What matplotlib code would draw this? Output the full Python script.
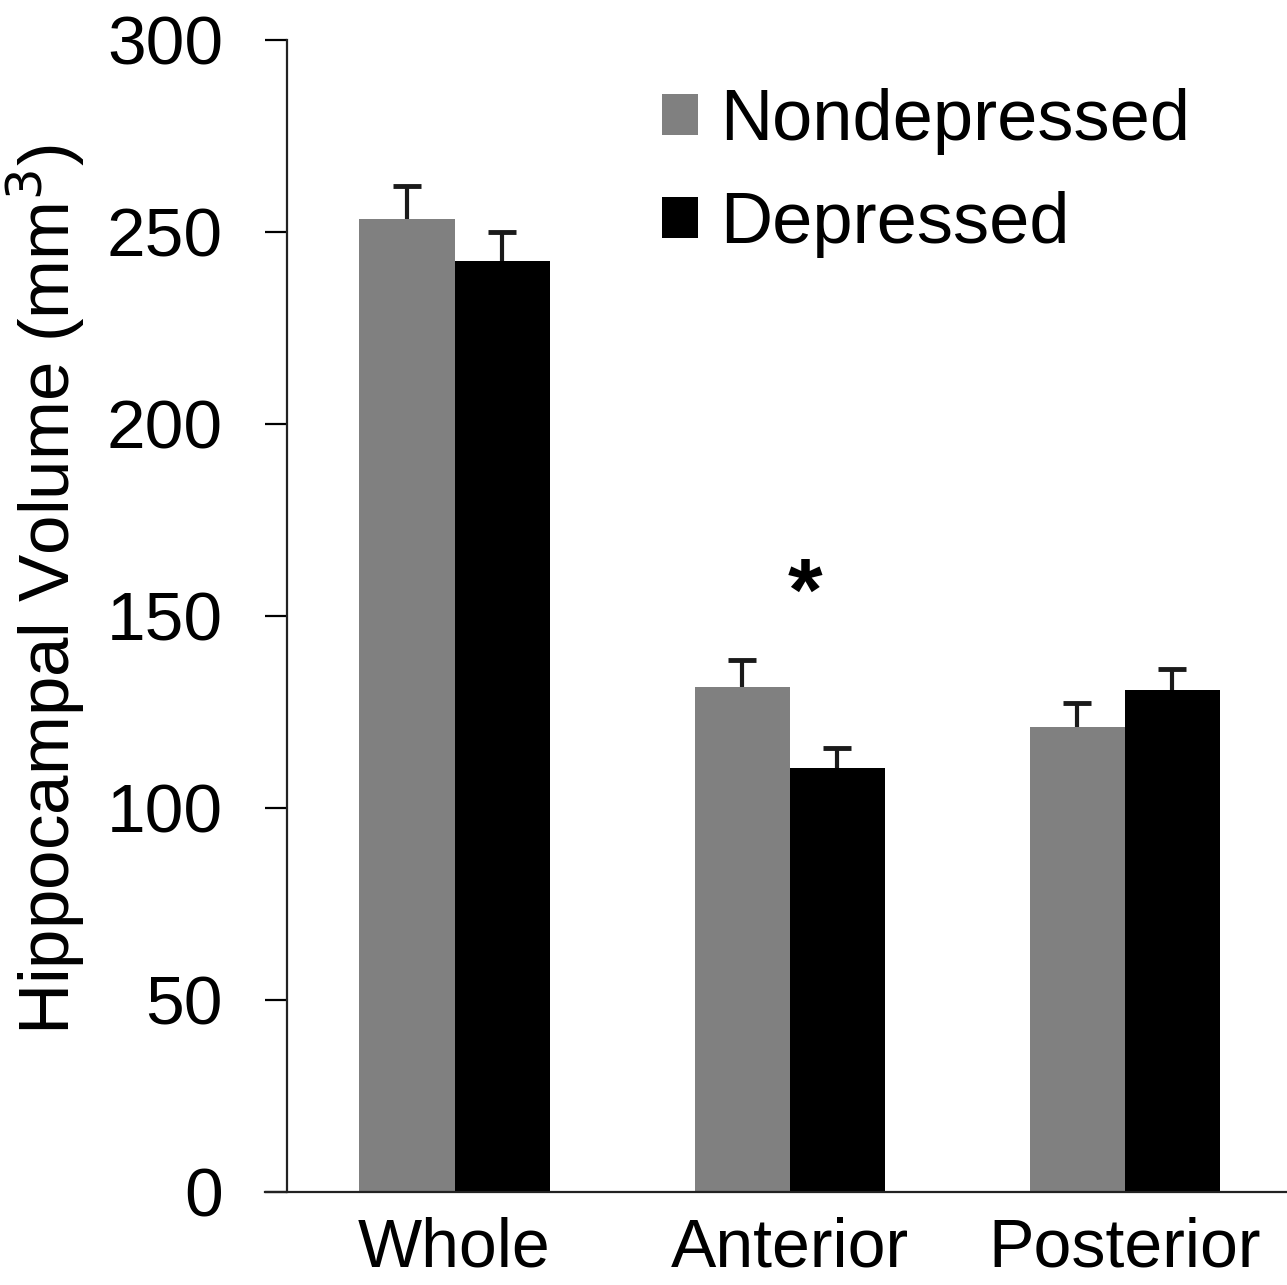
import matplotlib
matplotlib.use("Agg")
import numpy as np
import matplotlib.pyplot as plt

# data
regions = ["Whole", "Anterior", "Posterior"]
nondepressed = [253.4, 131.5, 121.0]
nondepressed_err = [8.5, 7.0, 6.3]
depressed = [242.5, 110.5, 130.8]
depressed_err = [7.5, 5.0, 5.4]
yticks = [0, 50, 100, 150, 200, 250, 300]

plt.rcParams["font.family"] = ["Liberation Sans", "DejaVu Sans"]

fig = plt.figure(figsize=(12.87, 12.85), dpi=100)
ax = fig.add_axes([0.223, 0.0724, 0.777, 0.8965])

x = np.arange(len(regions))
w = 0.284
ax.bar(x - w / 2, nondepressed, w, color="#808080", label="Nondepressed")
ax.bar(x + w / 2, depressed, w, color="#000000", label="Depressed")

# upper-only error bars with a cap at the top
for xs, vals, errs in [(x - w / 2, nondepressed, nondepressed_err),
                       (x + w / 2, depressed, depressed_err)]:
    tops = np.array(vals) + np.array(errs)
    ax.vlines(xs, vals, tops, color="#1a1a1a", linewidth=3, zorder=3)
    ax.plot(xs, tops, linestyle="none", marker="_", markersize=20,
            markeredgewidth=3.5, color="#1a1a1a", zorder=3)

# significance marker over anterior
ax.text(x[1] + 0.045, 144, "*", ha="center", va="bottom", fontsize=64,
        fontweight="bold")

ax.set_xlim(-0.5, 2.484)
ax.set_ylim(0, 300)
ax.set_yticks(yticks)
ax.set_xticks(x)
ax.set_xticklabels(regions)
ax.tick_params(axis="y", direction="out", length=16, width=1.6,
               labelsize=50, pad=30)
ax.tick_params(axis="x", length=0, labelsize=49, pad=18)
ax.spines["top"].set_visible(False)
ax.spines["right"].set_visible(False)
for s in ["left", "bottom"]:
    ax.spines[s].set_linewidth(1.6)
    ax.spines[s].set_color("#222222")
ax.spines["bottom"].set_bounds(-0.5 - 22 / 335, 2.484)
ax.set_ylabel("Hippocampal Volume (mm$^3$)", fontsize=51)
ax.yaxis.set_label_coords(-0.2, 0.523)

ax.legend(loc="upper left", bbox_to_anchor=(0.375, 0.958), frameon=False,
          fontsize=52, handlelength=0.5, handleheight=0.5, handletextpad=0.3,
          labelspacing=0.5, borderaxespad=0, borderpad=0)

fig.savefig("out.png", dpi=100)
